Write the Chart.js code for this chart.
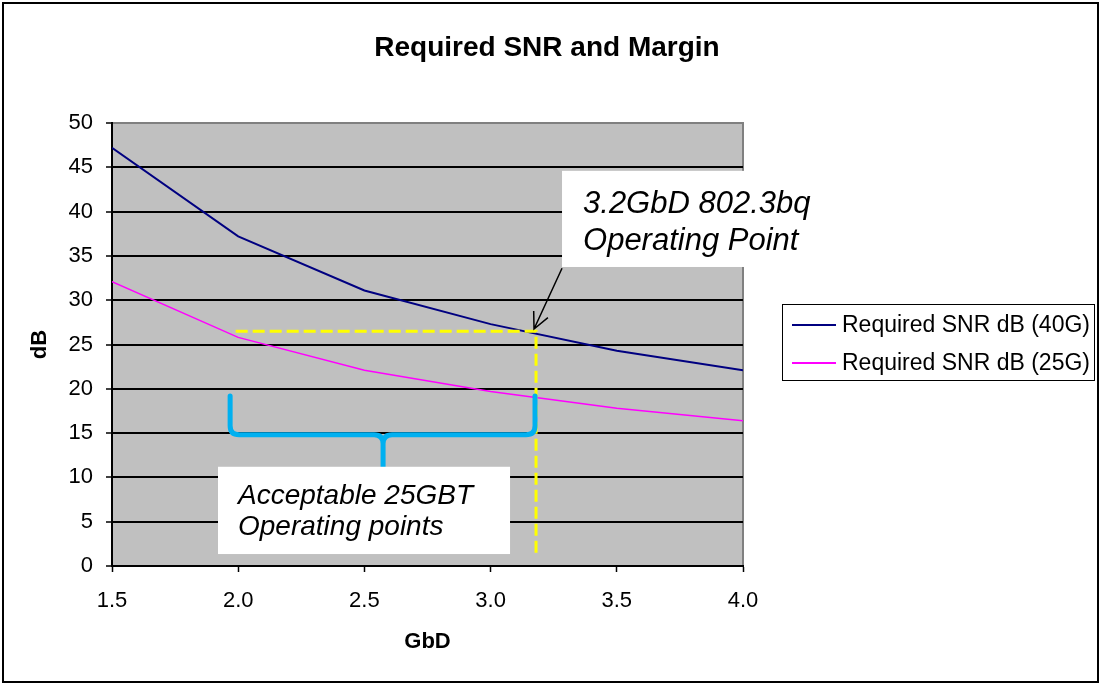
<!DOCTYPE html>
<html>
<head>
<meta charset="utf-8">
<script src="https://cdn.jsdelivr.net/npm/chart.js@4"></script>
<style>
html, body { margin: 0; padding: 0; background: #fff; }
</style>
</head>
<body>
<canvas id="snrChart" width="1101" height="685"></canvas>
<script>
// data
const gbd = [1.5, 2.0, 2.5, 3.0, 3.5, 4.0];
const snr40G = [47.2, 37.2, 31.1, 27.3, 24.3, 22.1];
const snr25G = [32.1, 25.8, 22.1, 19.7, 17.8, 16.4];
const seriesNames = ["Required SNR dB (40G)", "Required SNR dB (25G)"];
const seriesColors = ["#000080", "#FF00FF"];
const xRange = [1.5, 4.0, 0.5];
const yRange = [0, 50, 5];

// annotation anchors (data units)
const opPath = [[1.99, 26.5], [3.18, 26.5], [3.18, 1.3]];
const arrowLine = [[3.283, 33.6], [3.172, 26.75]];
const opBox = [3.283, 44.6, 4.384, 33.75];
const opText = ["3.2GbD 802.3bq", "Operating Point"];
const braceX = [1.968, 2.574, 3.176];
const braceY = [19.2, 14.8, 10.8];
const accBox = [1.92, 11.2, 3.077, 1.35];
const accText = ["Acceptable 25GBT", "Operating points"];

const FONT = "'Liberation Sans', Arial, sans-serif";
Chart.defaults.font.family = FONT;
Chart.defaults.color = "#000";

const toPts = (ys) => gbd.map((x, i) => ({ x: x, y: ys[i] }));

const decor = {
    id: "decor",
    beforeDraw(chart) {
        const { ctx, chartArea: a } = chart;
        ctx.save();
        ctx.fillStyle = "#fff";
        ctx.fillRect(0, 0, chart.width, chart.height);
        ctx.strokeStyle = "#000";
        ctx.lineWidth = 2;
        ctx.strokeRect(3, 3, chart.width - 6, chart.height - 6);

        ctx.fillStyle = "#C0C0C0";
        ctx.fillRect(a.left, a.top, a.width, a.height);
        ctx.strokeStyle = "#808080";
        ctx.lineWidth = 2;
        ctx.beginPath();
        ctx.moveTo(a.left, a.top);
        ctx.lineTo(a.right, a.top);
        ctx.lineTo(a.right, a.bottom);
        ctx.stroke();

        // title
        ctx.fillStyle = "#000";
        ctx.font = "bold 28px " + FONT;
        ctx.textAlign = "center";
        ctx.textBaseline = "middle";
        ctx.fillText("Required SNR and Margin", 547, 48);
        ctx.restore();
    },
    afterDatasetsDraw(chart) {
        const { ctx } = chart;
        const xs = chart.scales.x, ys = chart.scales.y;
        const px = (v) => xs.getPixelForValue(v);
        const py = (v) => ys.getPixelForValue(v);
        ctx.save();

        // yellow dashed guide
        ctx.strokeStyle = "#FFFF00";
        ctx.lineWidth = 3;
        ctx.setLineDash([12, 5]);
        ctx.beginPath();
        opPath.forEach((p, i) => {
            if (i === 0) ctx.moveTo(px(p[0]), py(p[1]));
            else ctx.lineTo(px(p[0]), py(p[1]));
        });
        ctx.stroke();
        ctx.setLineDash([]);

        // arrow
        const x1 = px(arrowLine[0][0]), y1 = py(arrowLine[0][1]);
        const x2 = px(arrowLine[1][0]), y2 = py(arrowLine[1][1]);
        ctx.strokeStyle = "#000";
        ctx.lineWidth = 1.5;
        ctx.beginPath();
        ctx.moveTo(x1, y1);
        ctx.lineTo(x2, y2);
        const ang = Math.atan2(y1 - y2, x1 - x2);
        ctx.moveTo(x2 + 18 * Math.cos(ang - 0.45), y2 + 18 * Math.sin(ang - 0.45));
        ctx.lineTo(x2, y2);
        ctx.lineTo(x2 + 18 * Math.cos(ang + 0.45), y2 + 18 * Math.sin(ang + 0.45));
        ctx.stroke();

        // operating point box
        ctx.fillStyle = "#fff";
        ctx.fillRect(px(opBox[0]), py(opBox[1]), px(opBox[2]) - px(opBox[0]), py(opBox[3]) - py(opBox[1]));
        ctx.fillStyle = "#000";
        ctx.font = "italic 31px " + FONT;
        ctx.textAlign = "left";
        ctx.textBaseline = "alphabetic";
        ctx.fillText(opText[0], px(opBox[0]) + 21, py(opBox[1]) + 42);
        ctx.fillText(opText[1], px(opBox[0]) + 21, py(opBox[1]) + 79);

        // cyan brace
        const L = px(braceX[0]), M = px(braceX[1]), R = px(braceX[2]);
        const T = py(braceY[0]), H = py(braceY[1]), B = py(braceY[2]);
        const r = 9;
        ctx.strokeStyle = "#00B0F0";
        ctx.lineWidth = 5;
        ctx.lineCap = "round";
        ctx.beginPath();
        ctx.moveTo(L, T);
        ctx.lineTo(L, H - r);
        ctx.quadraticCurveTo(L, H, L + r, H);
        ctx.lineTo(M - r, H);
        ctx.quadraticCurveTo(M, H, M, H + r);
        ctx.lineTo(M, B);
        ctx.moveTo(M, H + r);
        ctx.quadraticCurveTo(M, H, M + r, H);
        ctx.lineTo(R - r, H);
        ctx.quadraticCurveTo(R, H, R, H - r);
        ctx.lineTo(R, T);
        ctx.stroke();

        // acceptable box
        ctx.fillStyle = "#fff";
        ctx.fillRect(px(accBox[0]), py(accBox[1]), px(accBox[2]) - px(accBox[0]), py(accBox[3]) - py(accBox[1]));
        ctx.fillStyle = "#000";
        ctx.font = "italic 28px " + FONT;
        ctx.fillText(accText[0], px(accBox[0]) + 20, py(accBox[1]) + 37);
        ctx.fillText(accText[1], px(accBox[0]) + 20, py(accBox[1]) + 68);

        ctx.restore();
    },
    afterDraw(chart) {
        // legend
        const { ctx, chartArea: a } = chart;
        const left = a.right + 39, top = 304;
        ctx.save();
        ctx.fillStyle = "#fff";
        ctx.fillRect(left, top, 312, 76);
        ctx.strokeStyle = "#000";
        ctx.lineWidth = 1;
        ctx.strokeRect(left + 0.5, top + 0.5, 312, 76);
        ctx.font = "23px " + FONT;
        ctx.textBaseline = "middle";
        ctx.textAlign = "left";
        chart.data.datasets.forEach((ds, i) => {
            const y = top + 21 + i * 38;
            ctx.strokeStyle = ds.borderColor;
            ctx.lineWidth = 2;
            ctx.beginPath();
            ctx.moveTo(left + 10, y);
            ctx.lineTo(left + 54, y);
            ctx.stroke();
            ctx.fillStyle = "#000";
            ctx.fillText(ds.label, left + 60, y + 1);
        });
        ctx.restore();
    }
};

new Chart(document.getElementById("snrChart"), {
    type: "line",
    data: {
        datasets: [
            { label: seriesNames[0], data: toPts(snr40G), borderColor: seriesColors[0], borderWidth: 2, pointRadius: 0, tension: 0 },
            { label: seriesNames[1], data: toPts(snr25G), borderColor: seriesColors[1], borderWidth: 1.5, pointRadius: 0, tension: 0 }
        ]
    },
    options: {
        responsive: false,
        animation: false,
        layout: { padding: { left: 0, top: 123, right: 358, bottom: 0 } },
        plugins: {
            legend: { display: false },
            title: { display: false },
            tooltip: { enabled: false }
        },
        scales: {
            x: {
                type: "linear",
                min: xRange[0],
                max: xRange[1],
                afterFit(scale) { scale.height = 119; },
                ticks: {
                    stepSize: xRange[2],
                    padding: 16,
                    font: { size: 22 },
                    color: "#000",
                    callback: (v) => Number(v).toFixed(1)
                },
                grid: { drawOnChartArea: false, tickLength: 6, tickColor: "#000", tickWidth: 1.5 },
                border: { color: "#000", width: 2 },
                title: { display: true, text: "GbD", font: { size: 22, weight: "bold" }, color: "#000", padding: { top: 0, bottom: 30 } }
            },
            y: {
                min: yRange[0],
                max: yRange[1],
                afterFit(scale) { scale.width = 112; },
                ticks: { stepSize: yRange[2], padding: 13, font: { size: 22 }, color: "#000" },
                grid: {
                    color: (c) => (c.tick && c.tick.value === yRange[1] ? "rgba(0,0,0,0)" : "#000"),
                    lineWidth: 2,
                    tickLength: 6,
                    tickColor: "#000",
                    tickWidth: 1.5
                },
                border: { color: "#000", width: 2 },
                title: { display: true, text: "dB", font: { size: 22, weight: "bold" }, color: "#000", padding: { top: 27, bottom: 0 } }
            }
        }
    },
    plugins: [decor]
});
</script>
</body>
</html>
